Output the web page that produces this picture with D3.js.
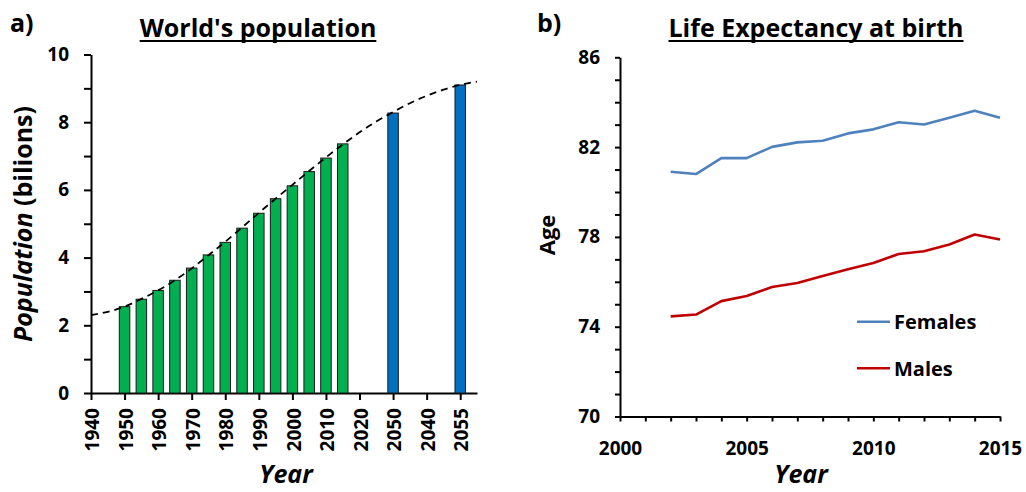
<!DOCTYPE html>
<html>
<head>
<meta charset="utf-8">
<script src="https://cdn.jsdelivr.net/npm/d3@7"></script>
<style>
  body { margin: 0; background: #fff; }
  svg { font-family: 'Open Sans', Lato, sans-serif; font-weight: bold; }
  .axis path, .axis line { stroke: #000; stroke-width: 2; }
  .axis text { font-family: 'Open Sans', Lato, sans-serif; font-size: 19px; font-weight: bold; fill: #000; }
</style>
</head>
<body>
<svg id="chart" width="1026" height="492"></svg>
<script>
// ---- a) World's population (billions) ----
const popYears = [1950, 1955, 1960, 1965, 1970, 1975, 1980, 1985, 1990, 1995, 2000, 2005, 2010, 2015];
const popValues = [2.55, 2.77, 3.03, 3.33, 3.69, 4.08, 4.45, 4.87, 5.31, 5.74, 6.12, 6.54, 6.94, 7.36];
// projections sit on the category axis where 2030 / 2050 would be
const projLabels = ['2050', '2055'];
const projSlots = [2030, 2050];
const projValues = [8.27, 9.1];
const trendSlots = [1940, 1945, 1950, 1955, 1960, 1965, 1970, 1975, 1980, 1985, 1990, 1995,
  2000, 2005, 2010, 2015, 2020, 2025, 2030, 2035, 2040, 2045, 2050, 2055];
const trendValues = [2.30, 2.40, 2.55, 2.78, 3.03, 3.33, 3.68, 4.07, 4.47, 4.89, 5.32, 5.74,
  6.15, 6.56, 6.96, 7.34, 7.70, 8.02, 8.30, 8.56, 8.78, 8.96, 9.10, 9.20];
const popTickSlots = [1940, 1950, 1960, 1970, 1980, 1990, 2000, 2010, 2020, 2030, 2040, 2050];
const popTickLabels = ['1940', '1950', '1960', '1970', '1980', '1990', '2000', '2010', '2020', '2050', '2040', '2055'];

// ---- b) Life expectancy at birth ----
const lifeYears = [2002, 2003, 2004, 2005, 2006, 2007, 2008, 2009, 2010, 2011, 2012, 2013, 2014, 2015];
const females = [80.90, 80.80, 81.51, 81.51, 82.01, 82.21, 82.28, 82.61, 82.79, 83.11, 83.01, 83.31, 83.62, 83.31];
const males = [74.46, 74.54, 75.14, 75.37, 75.77, 75.95, 76.26, 76.56, 76.84, 77.24, 77.36, 77.66, 78.11, 77.88];
const seriesNames = ['Females', 'Males'];
const seriesColours = ['#4F81BD', '#C00000'];

const svg = d3.select('#chart');
svg.append('rect').attr('width', 1026).attr('height', 492).attr('fill', '#fff');

function title(x, y, label) {
  const t = svg.append('text')
    .attr('x', x).attr('y', y)
    .attr('text-anchor', 'middle')
    .attr('font-size', 25)
    .text(label);
  const w = t.node().getComputedTextLength();
  svg.append('line')
    .attr('x1', x - w / 2).attr('x2', x + w / 2)
    .attr('y1', y + 4).attr('y2', y + 4)
    .attr('stroke', '#000').attr('stroke-width', 2);
}

function axisTitle(x, y, rotate, size, parts) {
  const t = svg.append('text')
    .attr('transform', 'translate(' + x + ',' + y + ')' + (rotate ? ' rotate(-90)' : ''))
    .attr('text-anchor', 'middle')
    .attr('font-size', size);
  parts.forEach((p) => {
    t.append('tspan').attr('font-style', p.italic ? 'italic' : 'normal').text(p.text);
  });
}

// ---------- panel a ----------
const xPop = d3.scaleLinear().domain([1940, 2055]).range([91, 477]);
const yPop = d3.scaleLinear().domain([0, 10]).range([393, 54.5]);
const barWidth = 10.5;

svg.append('g')
  .attr('class', 'axis')
  .attr('transform', 'translate(' + xPop.range()[0] + ',0)')
  .call(d3.axisLeft(yPop)
    .tickValues(d3.range(0, 11))
    .tickSize(7)
    .tickSizeOuter(0)
    .tickPadding(15)
    .tickFormat((d) => (d % 2 ? '' : d)));

const xAxisPop = svg.append('g')
  .attr('class', 'axis')
  .attr('transform', 'translate(0,' + yPop(0) + ')')
  .call(d3.axisBottom(xPop)
    .tickValues(popTickSlots)
    .tickSize(7)
    .tickSizeOuter(0)
    .tickFormat((d, i) => popTickLabels[i]));
xAxisPop.selectAll('text')
  .attr('transform', 'rotate(-90)')
  .attr('text-anchor', 'end')
  .attr('x', -15)
  .attr('y', 0)
  .attr('dy', '0.4em');

svg.append('g')
  .selectAll('rect')
  .data(popYears.map((y, i) => ({ x: y, v: popValues[i] })))
  .join('rect')
  .attr('x', (d) => xPop(d.x) - barWidth / 2)
  .attr('y', (d) => yPop(d.v))
  .attr('width', barWidth)
  .attr('height', (d) => yPop(0) - yPop(d.v))
  .attr('fill', '#00B050')
  .attr('stroke', '#1a1a1a')
  .attr('stroke-width', 1);

svg.append('g')
  .selectAll('rect')
  .data(projSlots.map((s, i) => ({ x: s, v: projValues[i], label: projLabels[i] })))
  .join('rect')
  .attr('x', (d) => xPop(d.x) - barWidth / 2)
  .attr('y', (d) => yPop(d.v))
  .attr('width', barWidth)
  .attr('height', (d) => yPop(0) - yPop(d.v))
  .attr('fill', '#0070C0')
  .attr('stroke', '#1a1a1a')
  .attr('stroke-width', 1);

const trendLine = d3.line()
  .x((d) => xPop(d.x))
  .y((d) => yPop(d.y))
  .curve(d3.curveMonotoneX);
svg.append('path')
  .datum(trendSlots.map((s, i) => ({ x: s, y: trendValues[i] })))
  .attr('d', trendLine)
  .attr('fill', 'none')
  .attr('stroke', '#000')
  .attr('stroke-width', 1.8)
  .attr('stroke-dasharray', '7,5');

svg.append('text').attr('x', 10).attr('y', 32).attr('font-size', 25).text('a)');
title(258, 37, "World's population");
axisTitle(32, 224, true, 25, [{ text: 'Population', italic: true }, { text: ' (bilions)' }]);
axisTitle(286, 483, false, 25, [{ text: 'Year', italic: true }]);

// ---------- panel b ----------
const xLife = d3.scaleLinear().domain([2000, 2015]).range([620, 1000]);
const yLife = d3.scaleLinear().domain([70, 86]).range([416.5, 57.3]);

svg.append('g')
  .attr('class', 'axis')
  .attr('transform', 'translate(' + xLife.range()[0] + ',0)')
  .call(d3.axisLeft(yLife)
    .tickValues(d3.range(70, 87))
    .tickSize(5)
    .tickSizeOuter(0)
    .tickPadding(15)
    .tickFormat((d) => ((d - 70) % 4 ? '' : d)));

svg.append('g')
  .attr('class', 'axis')
  .attr('transform', 'translate(0,' + yLife(70) + ')')
  .call(d3.axisBottom(xLife)
    .tickValues(d3.range(2000, 2016))
    .tickSize(5)
    .tickSizeOuter(0)
    .tickPadding(20)
    .tickFormat((d) => (d % 5 ? '' : d)));

const lifeLine = d3.line()
  .x((d) => xLife(d.x))
  .y((d) => yLife(d.y));
[females, males].forEach((values, i) => {
  svg.append('path')
    .datum(lifeYears.map((y, j) => ({ x: y, y: values[j] })))
    .attr('d', lifeLine)
    .attr('fill', 'none')
    .attr('stroke', seriesColours[i])
    .attr('stroke-width', 2.6)
    .attr('stroke-linejoin', 'round');
});

// legend
const legend = svg.append('g').attr('transform', 'translate(857,321.7)');
seriesNames.forEach((name, i) => {
  const row = legend.append('g').attr('transform', 'translate(0,' + i * 46.6 + ')');
  row.append('line').attr('x1', 0).attr('x2', 33)
    .attr('stroke', seriesColours[i]).attr('stroke-width', 2.6);
  row.append('text').attr('x', 37).attr('dy', '0.36em').attr('font-size', 20).text(name);
});

svg.append('text').attr('x', 537).attr('y', 32).attr('font-size', 25).text('b)');
title(816, 37, 'Life Expectancy at birth');
axisTitle(555, 235, true, 22, [{ text: 'Age' }]);
axisTitle(801, 483, false, 25, [{ text: 'Year', italic: true }]);
</script>
</body>
</html>
